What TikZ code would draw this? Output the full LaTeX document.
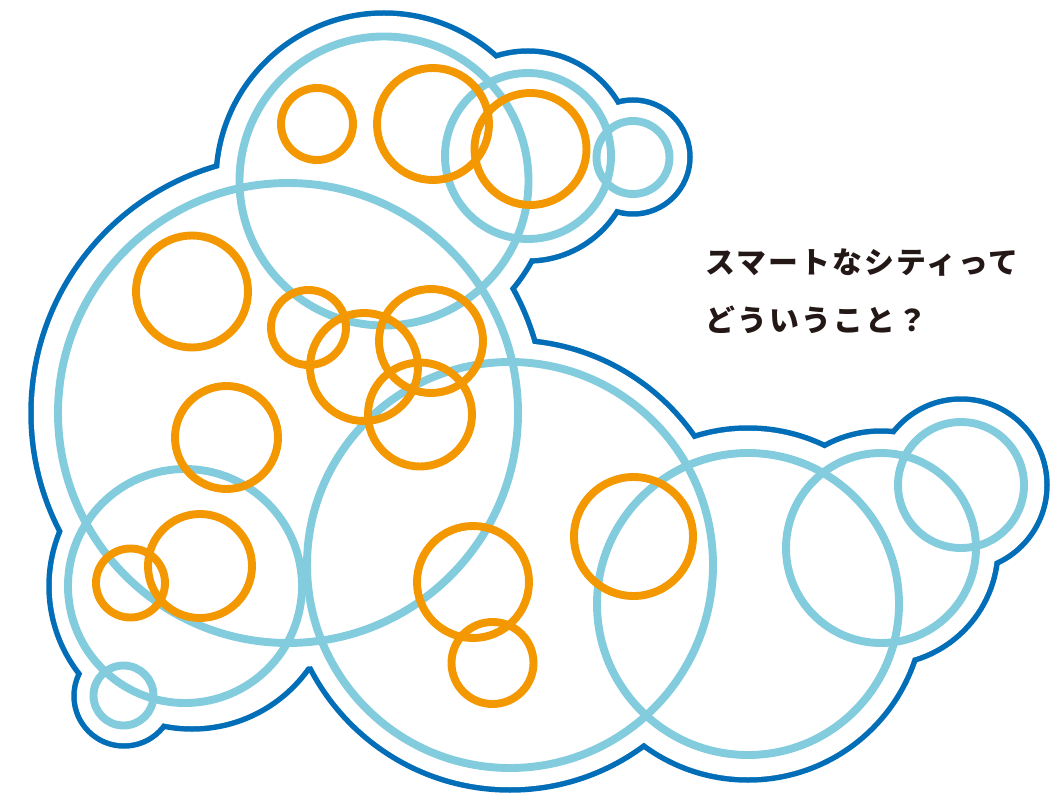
\documentclass[tikz,border=0pt]{standalone}
\usepackage{fontspec}
\usepackage{tikz}
\usetikzlibrary{positioning}
\newfontfamily\jpfont[LetterSpace=7]{Noto Sans CJK JP}
\definecolor{ringblue}{HTML}{82CCDD}
\definecolor{ringorange}{HTML}{F39800}
\definecolor{rimblue}{HTML}{036EB8}
\definecolor{inkdark}{HTML}{231815}
\def\rim{2.75}
\tikzstyle{bubble}   = [draw=ringblue, line width=4.5pt]
\tikzstyle{spot}     = [draw=ringorange, line width=4.5pt]
\tikzstyle{question} = [anchor=west, inner sep=0pt, text=inkdark, font=\jpfont\bfseries\fontsize{17}{20}\selectfont]

\begin{document}
\begin{tikzpicture}[x=0.02cm, y=-0.02cm]
	\useasboundingbox (0,0) rectangle (1055,797);
	% outer rim: union of the widened bubbles
	\foreach \x/\y/\r in {384/181/168, 288/413/257, 528/156/105, 633/157/57, 192/586/143, 124/696/50, 510/565/225, 748/604/176, 881/548/117, 961/485/86}{
		\fill[rimblue] (\x,\y) circle (\r+\rim);
	}
	\foreach \x/\y/\r in {384/181/168, 288/413/257, 528/156/105, 633/157/57, 192/586/143, 124/696/50, 510/565/225, 748/604/176, 881/548/117, 961/485/86}{
		\fill[white] (\x,\y) circle (\r-\rim);
	}
	% light blue bubbles
	\foreach \x/\y/\r in {384/181/144.5, 288/413/230, 528/156/83, 633/157.5/36.5, 185/586/117, 123.5/695.5/30, 510/565/203, 748/604/151, 881/548/95, 961/485/63}{
		\draw[bubble] (\x,\y) circle (\r);
	}
	% orange rings
	\foreach \x/\y/\r in {317/124/36, 433/124/56, 530.5/149/56, 192/291.5/56, 308.5/327.5/37.5, 364/367/54, 431/341/52, 420/414.5/52, 226.5/437.5/51.5, 130.5/583/34.5, 200/566/52, 473/582/56, 492.5/663/41, 633.5/536.5/59.5}{
		\draw[spot] (\x,\y) circle (\r);
	}
	\node[question] (q1) at (705,263) {スマートなシティって};
	\node[question] (q2) at (705,320) {どういうこと？};
\end{tikzpicture}
\end{document}
